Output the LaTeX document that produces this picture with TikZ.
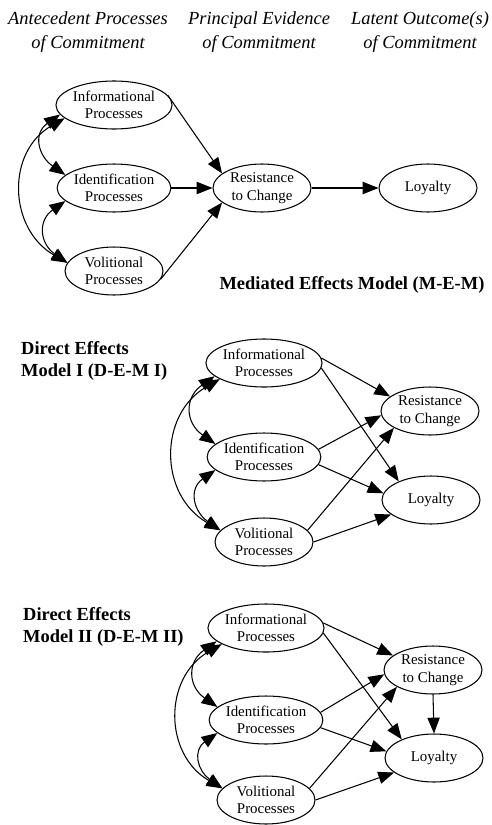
\documentclass[tikz,border=0pt]{standalone}
\usepackage{fontspec}
\setmainfont{Liberation Serif}
\usepackage{tikz}
\usetikzlibrary{shapes.geometric}
\usetikzlibrary{arrows.meta}
\tikzstyle{process} = [draw, ellipse, line width=0.6pt, minimum width=1.96cm, minimum height=0.96cm, inner sep=0pt, align=center, font=\fontsize{8.5}{10}\selectfont]
\tikzstyle{arrow} = [draw, -{Triangle[length=9pt, width=7pt]}, line width=0.6pt]
\tikzstyle{twoway} = [draw, {Triangle[length=9pt, width=7pt]}-{Triangle[length=9pt, width=7pt]}, line width=0.6pt]
\tikzstyle{heading} = [align=center, font=\fontsize{10.5}{13.5}\selectfont\itshape]
\tikzstyle{modelname} = [align=left, font=\fontsize{10.5}{12.5}\selectfont\bfseries]

\begin{document}
\begin{tikzpicture}[x=0.02cm, y=0.02cm]
\useasboundingbox (0, 0) rectangle (492, -825);

%% Headings
\node[heading] (antecedent) at (88, -32) {Antecedent Processes\\of Commitment};
\node[heading] (principal) at (259, -32) {Principal Evidence\\of Commitment};
\node[heading] (latent) at (420, -32) {Latent Outcome(s)\\of Commitment};

%% Mediated effects model
\node[process] (info1) at (114, -105) {Informational\\Processes};
\node[process] (ident1) at (114, -188) {Identification\\Processes};
\node[process] (vol1) at (114, -271) {Volitional\\Processes};
\node[process] (resist1) at (262, -188) {Resistance\\to Change};
\node[process] (loyal1) at (428, -188) {Loyalty};
\node[modelname] (mem) at (352, -285) {Mediated Effects Model (M-E-M)};

\draw[twoway] (info1.190) to[out=215, in=145, looseness=1.4] (ident1.165);
\draw[twoway] (ident1.195) to[out=215, in=145, looseness=1.4] (vol1.170);
\draw[twoway] (info1.195) to[out=210, in=150, looseness=1.2] (vol1.170);
\draw[arrow] (info1.10) -- (resist1.160);
\draw[arrow] (ident1) -- (resist1);
\draw[arrow] (vol1.-10) -- (resist1.200);
\draw[arrow] (resist1) -- (loyal1);

%% Direct effects model I
\node[modelname, anchor=west] (dem1) at (15, -361) {Direct Effects\\Model I (D-E-M I)};
\node[process] (info2) at (264, -363) {Informational\\Processes};
\node[process] (ident2) at (264, -457) {Identification\\Processes};
\node[process] (vol2) at (264, -542) {Volitional\\Processes};
\node[process] (resist2) at (430, -411) {Resistance\\to Change};
\node[process] (loyal2) at (431, -500) {Loyalty};

\draw[twoway] (info2.195) to[out=215, in=145, looseness=1.4] (ident2.165);
\draw[twoway] (ident2.195) to[out=215, in=145, looseness=1.4] (vol2.165);
\draw[twoway] (info2.200) to[out=210, in=150, looseness=1.2] (vol2.165);
\draw[arrow] (info2.5) -- (resist2.160);
\draw[arrow] (info2.-5) -- (loyal2.150);
\draw[arrow] (ident2.8) -- (resist2.185);
\draw[arrow] (ident2.-8) -- (loyal2.172);
\draw[arrow] (vol2.15) -- (resist2.205);
\draw[arrow] (vol2.0) -- (loyal2.200);

%% Direct effects model II
\node[modelname, anchor=west] (dem2) at (17, -627) {Direct Effects\\Model II (D-E-M II)};
\node[process] (info3) at (266, -628) {Informational\\Processes};
\node[process] (ident3) at (266, -720) {Identification\\Processes};
\node[process] (vol3) at (266, -800) {Volitional\\Processes};
\node[process] (resist3) at (433, -670) {Resistance\\to Change};
\node[process] (loyal3) at (434, -758) {Loyalty};

\draw[twoway] (info3.195) to[out=215, in=145, looseness=1.4] (ident3.165);
\draw[twoway] (ident3.195) to[out=215, in=145, looseness=1.4] (vol3.165);
\draw[twoway] (info3.200) to[out=210, in=150, looseness=1.2] (vol3.165);
\draw[arrow] (info3.5) -- (resist3.160);
\draw[arrow] (info3.-5) -- (loyal3.150);
\draw[arrow] (ident3.8) -- (resist3.185);
\draw[arrow] (ident3.-8) -- (loyal3.172);
\draw[arrow] (vol3.15) -- (resist3.205);
\draw[arrow] (vol3.0) -- (loyal3.200);
\draw[arrow] (resist3.south) -- (loyal3.north);
\end{tikzpicture}
\end{document}
